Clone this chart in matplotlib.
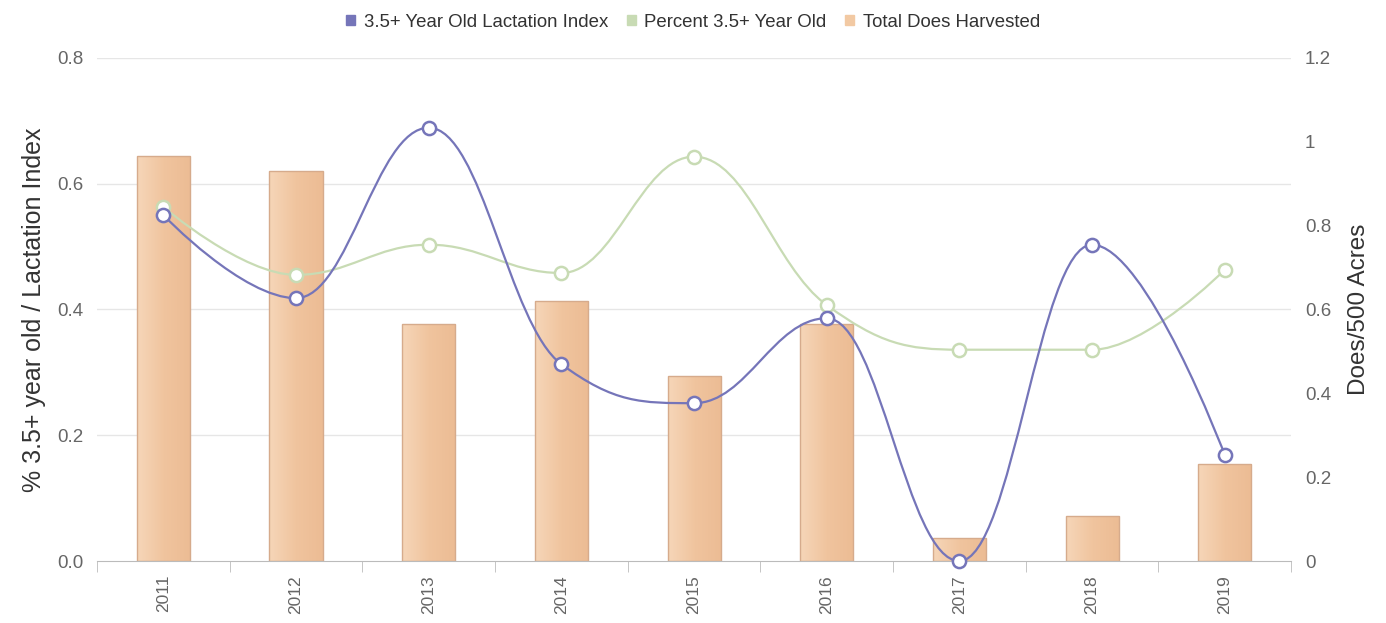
import numpy as np
import matplotlib.pyplot as plt
from matplotlib.path import Path
from matplotlib.patches import PathPatch, Patch
from matplotlib.colors import LinearSegmentedColormap
from matplotlib.ticker import FixedLocator, FuncFormatter

# ========== Data ==========
years = ['2011', '2012', '2013', '2014', '2015', '2016', '2017', '2018', '2019']
lactation_index = [0.550, 0.418, 0.689, 0.313, 0.251, 0.386, 0.0, 0.503, 0.169]
percent_old = [0.563, 0.455, 0.503, 0.458, 0.643, 0.407, 0.336, 0.336, 0.463]
does_harvested = [0.966, 0.930, 0.565, 0.620, 0.441, 0.565, 0.055, 0.107, 0.231]

BLUE = '#7575b9'
GREEN = '#c8dbb4'
BAR = '#f2c9a3'
BAR_EDGE = '#d6ab8c'
GRID = '#e6e6e6'
TXT = '#666666'

plt.rcParams['font.family'] = ['Liberation Sans', 'DejaVu Sans']


def splinePath(xs, ys, smoothing=1.5):
    """Bezier path through the points, Highcharts-style spline."""
    n = len(xs)
    denom = smoothing + 1
    left = [None] * n
    right = [None] * n
    for i in range(n):
        x, y = xs[i], ys[i]
        if i == 0 or i == n - 1:
            left[i] = (x, y)
            right[i] = (x, y)
            continue
        lx, ly = xs[i - 1], ys[i - 1]
        nx, ny = xs[i + 1], ys[i + 1]
        lcx = (smoothing * x + lx) / denom
        lcy = (smoothing * y + ly) / denom
        rcx = (smoothing * x + nx) / denom
        rcy = (smoothing * y + ny) / denom
        corr = ((rcy - lcy) * (rcx - x)) / (rcx - lcx) + y - rcy
        lcy += corr
        rcy += corr
        if lcy > ly and lcy > y:
            lcy = max(ly, y)
            rcy = 2 * y - lcy
        elif lcy < ly and lcy < y:
            lcy = min(ly, y)
            rcy = 2 * y - lcy
        if rcy > ny and rcy > y:
            rcy = max(ny, y)
            lcy = 2 * y - rcy
        elif rcy < ny and rcy < y:
            rcy = min(ny, y)
            lcy = 2 * y - rcy
        left[i] = (lcx, lcy)
        right[i] = (rcx, rcy)
    verts = [(xs[0], ys[0])]
    codes = [Path.MOVETO]
    for i in range(1, n):
        verts += [right[i - 1], left[i], (xs[i], ys[i])]
        codes += [Path.CURVE4] * 3
    return Path(verts, codes)


# ========== Plot ==========
fig = plt.figure(figsize=(13.86, 6.23), dpi=100)
ax = fig.add_axes([0.070, 0.0995, 0.8615, 0.8075])
ax2 = ax.twinx()

x = np.arange(len(years))

# bars on the right axis, with a light-to-dark horizontal gradient
barCmap = LinearSegmentedColormap.from_list('bar', ['#f6d6b8', '#f0c49e', '#ecbc94'])
bars = ax2.bar(x, does_harvested, width=0.40, color='none', edgecolor=BAR_EDGE, linewidth=1, zorder=2)
grad = np.linspace(0, 1, 64).reshape(1, -1)
for b in bars:
    bx, by = b.get_x(), b.get_y()
    im = ax2.imshow(grad, cmap=barCmap, aspect='auto', zorder=1,
                    extent=(bx, bx + b.get_width(), by, by + b.get_height()))
    im.set_clip_path(b)
ax2.set_xlim(-0.5, len(years) - 0.5)
ax2.set_ylim(0, 1.2)
ax.set_ylim(0, 0.8)
ax.set_xlim(-0.5, len(years) - 0.5)

# put the line axes on top
ax.set_zorder(ax2.get_zorder() + 1)
ax.patch.set_visible(False)

for vals, col in [(percent_old, GREEN), (lactation_index, BLUE)]:
    ax.add_patch(PathPatch(splinePath(x, vals), facecolor='none', edgecolor=col, lw=1.6, zorder=3))
    ax.plot(x, vals, linestyle='none', marker='o', markersize=9.5, markerfacecolor='white',
            markeredgecolor=col, markeredgewidth=1.8, zorder=4, clip_on=False)

# grid on left axis
ax.yaxis.set_major_locator(FixedLocator([0, 0.2, 0.4, 0.6, 0.8]))
ax.yaxis.set_major_formatter(FuncFormatter(lambda v, p: f'{v:.1f}'))
for v in [0.2, 0.4, 0.6, 0.8]:
    ax2.axhline(v * 1.5, color=GRID, lw=1, zorder=0)

ax2.yaxis.set_major_locator(FixedLocator([0, 0.2, 0.4, 0.6, 0.8, 1.0, 1.2]))
ax2.yaxis.set_major_formatter(FuncFormatter(lambda v, p: f'{v:g}'))

for a in (ax, ax2):
    for s in a.spines.values():
        s.set_visible(False)
ax.tick_params(axis='y', length=0, labelsize=13.5, labelcolor=TXT, pad=10)
ax2.tick_params(axis='y', length=0, labelsize=13.5, labelcolor=TXT, pad=10)

ax.spines['bottom'].set_visible(True)
ax.spines['bottom'].set_color('#bbbbbb')
ax.set_xticks(x)
ax.set_xticklabels(years, rotation=90, fontsize=12.5, color=TXT)
ax.set_xticks(np.arange(len(years) + 1) - 0.5, minor=True)
ax.tick_params(axis='x', which='major', length=0, pad=10)
ax.tick_params(axis='x', which='minor', length=8, color='#bbbbbb')

ax.set_ylabel('% 3.5+ year old / Lactation Index', fontsize=18, color='#333333', labelpad=8)
ax2.set_ylabel('Does/500 Acres', fontsize=17.5, color='#333333', labelpad=12)

handles = [Patch(color=BLUE), Patch(color=GREEN), Patch(color=BAR)]
labels = ['3.5+ Year Old Lactation Index', 'Percent 3.5+ Year Old', 'Total Does Harvested']
fig.legend(handles, labels, loc='upper center', bbox_to_anchor=(0.5, 1.005), ncol=3,
           frameon=False, fontsize=13.4, handlelength=0.5, handleheight=0.5,
           handletextpad=0.45, columnspacing=1.0, labelcolor='#333333')

fig.savefig('out.png', dpi=100)
